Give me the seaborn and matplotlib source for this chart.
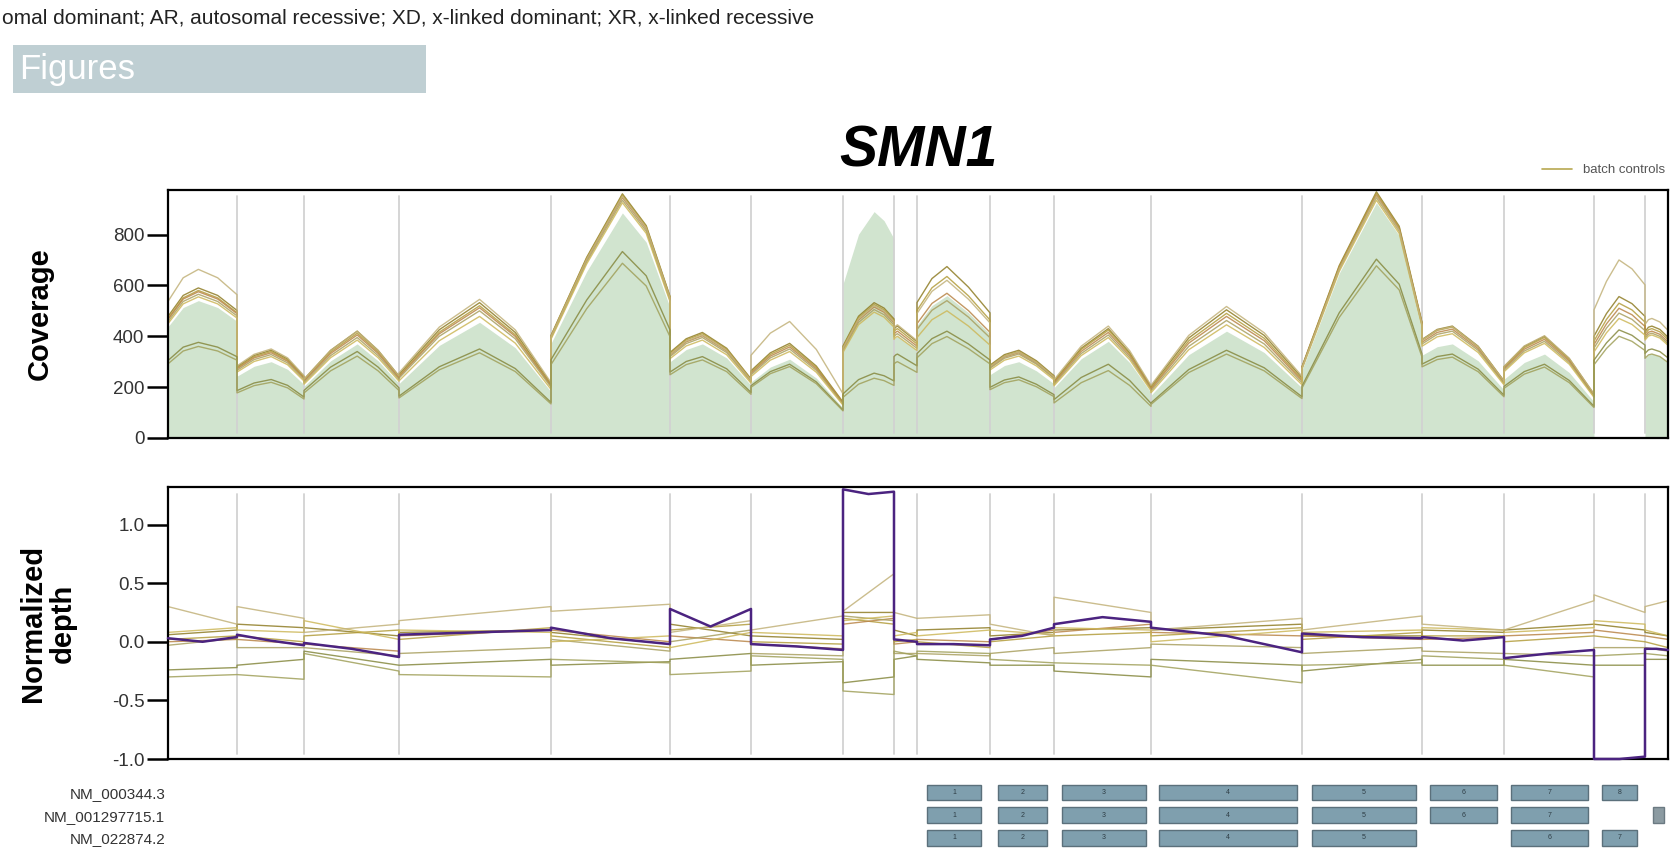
import numpy as np
import pandas as pd
import matplotlib
matplotlib.use("Agg")
import matplotlib.pyplot as plt
from matplotlib.patches import Rectangle
from matplotlib.lines import Line2D
import seaborn as sns

GENE = "SMN1"

# target regions laid end to end along the x axis (bp)
REGION_LEN = [69, 67, 95, 152, 119, 81, 92, 51, 23, 73, 64, 97, 151, 120, 82, 90, 51, 23]

# coverage shape of each region relative to the sample peak
PROF_START = [0.81, 0.81, 0.55, 0.47, 0.42, 0.81, 0.71, 0.68, 0.97, 0.79, 0.83, 0.52, 0.40, 0.29, 0.88, 0.70, 0.72, 0.95]
PROF_LEFT = [0.95, 0.94, 0.82, 0.80, 0.74, 0.94, 0.90, 0.90, 0.99, 0.93, 0.95, 0.82, 0.78, 0.70, 0.97, 0.90, 0.88, 0.99]
PEAK_POS = [0.44, 0.51, 0.56, 0.53, 0.60, 0.40, 0.42, 0.61, 0.15, 0.41, 0.45, 0.56, 0.50, 0.62, 0.37, 0.45, 0.49, 0.30]
PROF_RIGHT = [0.95, 0.90, 0.82, 0.78, 0.87, 0.85, 0.76, 0.96, 0.93, 0.88, 0.88, 0.78, 0.80, 0.86, 0.82, 0.78, 0.95, 0.97]
PROF_END = [0.85, 0.70, 0.58, 0.40, 0.58, 0.56, 0.38, 0.88, 0.86, 0.73, 0.71, 0.47, 0.47, 0.47, 0.51, 0.43, 0.86, 0.90]

# peak coverage per region
PEAK_C1 = [590, 345, 420, 532, 960, 415, 372, 532, 440, 674, 345, 430, 504, 968, 440, 400, 556, 440]
PEAK_C2 = [580, 340, 412, 520, 955, 410, 365, 525, 430, 635, 340, 424, 490, 962, 436, 395, 530, 430]
PEAK_C3 = [575, 335, 405, 512, 945, 402, 358, 515, 420, 569, 335, 415, 478, 955, 428, 388, 510, 420]
PEAK_C4 = [565, 328, 395, 500, 935, 395, 350, 505, 410, 540, 330, 405, 462, 945, 420, 380, 491, 412]
PEAK_C5 = [555, 320, 385, 478, 925, 385, 340, 495, 400, 500, 322, 395, 445, 935, 410, 372, 470, 405]
PEAK_C6 = [663, 350, 420, 545, 950, 405, 458, 520, 445, 620, 338, 440, 517, 950, 438, 402, 700, 470]
PEAK_C7 = [376, 230, 340, 350, 733, 320, 290, 255, 330, 420, 240, 290, 345, 703, 330, 290, 425, 350]
PEAK_C8 = [360, 219, 322, 335, 687, 307, 281, 235, 300, 399, 229, 265, 330, 677, 318, 279, 400, 330]
CASE_PEAK = [540, 300, 370, 455, 885, 370, 310, 890, 400, 560, 300, 380, 420, 925, 370, 330, 0, 330]

# normalized depth per region: (start, end) for controls
NORM_C1 = [(0.06, 0.10), (0.15, 0.12), (0.12, 0.05), (0.08, 0.10), (0.08, -0.02), (0.15, 0.05), (0.05, 0.02), (0.25, 0.25), (0.10, 0.05),
           (0.10, 0.12), (0.05, 0.08), (0.10, 0.12), (0.10, 0.15), (0.05, 0.05), (0.10, 0.08), (0.10, 0.15), (0.15, 0.10), (0.08, 0.05)]
NORM_C2 = [(0.02, 0.05), (0.05, 0.00), (0.05, 0.10), (0.02, 0.12), (0.05, -0.05), (0.10, 0.15), (0.00, -0.02), (0.20, 0.15), (0.00, 0.02),
           (0.00, -0.05), (0.00, 0.05), (0.05, 0.08), (0.05, 0.12), (0.02, 0.08), (0.05, 0.05), (0.00, 0.05), (0.05, 0.00), (0.00, -0.05)]
NORM_C3 = [(0.00, 0.02), (0.02, -0.02), (-0.02, -0.08), (0.05, 0.10), (0.10, 0.00), (0.05, 0.00), (-0.02, -0.06), (0.15, 0.20), (-0.02, 0.00),
           (0.02, 0.00), (0.02, 0.10), (0.08, 0.15), (0.08, 0.05), (0.05, 0.02), (0.02, 0.04), (0.05, 0.08), (0.10, 0.05), (0.05, 0.02)]
NORM_C4 = [(-0.03, 0.03), (-0.05, -0.05), (-0.05, -0.12), (-0.10, -0.05), (0.02, -0.08), (0.00, 0.10), (-0.10, -0.12), (0.22, 0.18), (-0.10, -0.10),
           (-0.10, -0.12), (-0.10, -0.05), (-0.10, -0.05), (-0.02, -0.05), (-0.10, -0.05), (-0.08, -0.10), (-0.10, -0.12), (-0.05, -0.05), (-0.05, -0.08)]
NORM_C5 = [(0.08, 0.12), (0.10, 0.08), (0.18, 0.02), (0.10, 0.08), (0.00, 0.05), (-0.05, 0.08), (0.08, 0.05), (0.18, 0.22), (0.05, 0.08),
           (0.05, 0.10), (0.10, 0.06), (0.12, 0.10), (0.00, 0.10), (0.08, 0.10), (0.12, 0.10), (0.08, 0.12), (0.18, 0.15), (0.10, 0.05)]
NORM_C6 = [(0.30, 0.15), (0.30, 0.20), (0.08, 0.15), (0.18, 0.30), (0.26, 0.32), (0.08, 0.18), (0.10, 0.22), (0.26, 0.58), (0.25, 0.20),
           (0.20, 0.23), (0.15, 0.05), (0.38, 0.25), (0.10, 0.20), (0.10, 0.22), (0.15, 0.10), (0.10, 0.35), (0.40, 0.25), (0.30, 0.35)]
NORM_C7 = [(-0.24, -0.22), (-0.20, -0.15), (-0.08, -0.20), (-0.20, -0.15), (-0.20, -0.17), (-0.15, -0.10), (-0.20, -0.17), (-0.35, -0.30), (-0.15, -0.12),
           (-0.15, -0.18), (-0.20, -0.20), (-0.25, -0.30), (-0.15, -0.20), (-0.25, -0.15), (-0.20, -0.20), (-0.15, -0.20), (-0.20, -0.20), (-0.15, -0.15)]
NORM_C8 = [(-0.30, -0.28), (-0.28, -0.32), (-0.10, -0.25), (-0.28, -0.30), (-0.15, -0.18), (-0.28, -0.25), (-0.12, -0.15), (-0.42, -0.45), (-0.08, -0.12),
           (-0.08, -0.10), (-0.15, -0.18), (-0.18, -0.20), (-0.20, -0.35), (-0.20, -0.18), (-0.12, -0.15), (-0.20, -0.30), (-0.12, -0.10), (-0.10, -0.12)]
# normalized depth of the tested sample: (start, middle, end) per region
NORM_CASE = [(0.03, 0.00, 0.04), (0.06, 0.01, -0.03), (-0.01, -0.06, -0.13), (0.06, 0.08, 0.10), (0.12, 0.03, -0.02), (0.28, 0.13, 0.28),
             (-0.02, -0.04, -0.07), (1.30, 1.26, 1.28), (0.02, 0.01, 0.00), (-0.02, -0.02, -0.03), (0.02, 0.05, 0.12), (0.15, 0.21, 0.17),
             (0.12, 0.05, -0.09), (0.07, 0.04, 0.03), (0.04, 0.01, 0.04), (-0.14, -0.10, -0.07), (-1.00, -1.00, -0.98), (-0.06, -0.06, -0.07)]

CONTROL_NAMES = ["ctrl 1", "ctrl 2", "ctrl 3", "ctrl 4", "ctrl 5", "ctrl 6", "ctrl 7", "ctrl 8"]
CONTROL_PEAKS = [PEAK_C1, PEAK_C2, PEAK_C3, PEAK_C4, PEAK_C5, PEAK_C6, PEAK_C7, PEAK_C8]
CONTROL_NORMS = [NORM_C1, NORM_C2, NORM_C3, NORM_C4, NORM_C5, NORM_C6, NORM_C7, NORM_C8]
CONTROL_COLORS = ["#8f7d25", "#b39d3c", "#b98548", "#a9a060", "#cdb85a", "#c2b27a", "#86893f", "#a0a05a"]

# transcript models
TRANSCRIPTS = ["NM_000344.3", "NM_001297715.1", "NM_022874.2"]
EXON_START = [759, 830, 894, 991, 1144, 1262, 1343, 1434]
EXON_END = [813, 879, 978, 1129, 1248, 1329, 1420, 1469]
EXON_PRESENT = [[1, 1, 1, 1, 1, 1, 1, 1],
                [1, 1, 1, 1, 1, 1, 1, 0],
                [1, 1, 1, 1, 1, 0, 1, 1]]
EXTRA_EXON = (1, 1485, 1496)

HEADER_NOTE = "omal dominant; AR, autosomal recessive; XD, x-linked dominant; XR, x-linked recessive"

edges = np.concatenate([[0], np.cumsum(REGION_LEN)])


def coverage_track(peaks):
    xs, ys = [], []
    for i, w in enumerate(REGION_LEN):
        s, p = edges[i], PEAK_POS[i]
        xs += [s, s + p * w / 2, s + p * w, s + p * w + (1 - p) * w / 2, s + w]
        ratios = [PROF_START[i], PROF_LEFT[i], 1.0, PROF_RIGHT[i], PROF_END[i]]
        ys += [peaks[i] * r for r in ratios]
    return np.array(xs, float), np.array(ys, float)


cov_rows, norm_rows = [], []
for name, peaks, norm in zip(CONTROL_NAMES, CONTROL_PEAKS, CONTROL_NORMS):
    x, y = coverage_track(peaks)
    cov_rows.append(pd.DataFrame({"pos": x, "value": y, "sample": name}))
    nx, ny = [], []
    for i, (a, b) in enumerate(norm):
        nx += [edges[i], edges[i + 1]]
        ny += [a, b]
    norm_rows.append(pd.DataFrame({"pos": nx, "value": ny, "sample": name}))
cov_df = pd.concat(cov_rows, ignore_index=True)
norm_df = pd.concat(norm_rows, ignore_index=True)

case_x, case_y = coverage_track(CASE_PEAK)
cx, cy = [], []
for i, (a, m, b) in enumerate(NORM_CASE):
    cx += [edges[i], (edges[i] + edges[i + 1]) / 2, edges[i + 1]]
    cy += [a, m, b]
case_norm = pd.DataFrame({"pos": cx, "value": cy})

palette = dict(zip(CONTROL_NAMES, CONTROL_COLORS))

sns.set_theme(style="white")
plt.rcParams["font.family"] = ["Liberation Sans", "DejaVu Sans"]
plt.rcParams["text.color"] = "black"
NARROW = ["Liberation Sans Narrow", "Liberation Sans", "DejaVu Sans"]

W, H = 1670, 856
fig = plt.figure(figsize=(W / 100, H / 100), dpi=100)
fig.patch.set_facecolor("white")


def fx(px):
    return px / W


def fy(py):
    return 1 - py / H


# page header
fig.text(fx(2), fy(18), HEADER_NOTE, fontsize=15, family=NARROW, color="#222222", va="center", ha="left")
fig.patches.append(Rectangle((fx(13), fy(93)), fx(413), 48 / H, transform=fig.transFigure,
                             facecolor="#bfcfd3", edgecolor="none"))
fig.text(fx(19), fy(69), "Figures", fontsize=25, family=NARROW, color="white", va="center", ha="left")

ax_cov = fig.add_axes([fx(168), fy(438), fx(1500), 248 / H])
ax_norm = fig.add_axes([fx(168), fy(759), fx(1500), 272 / H])
ax_tx = fig.add_axes([fx(168), 0, fx(1500), 76 / H])

# coverage panel
ax_cov.fill_between(case_x, case_y, 0, color="#d1e4cf", linewidth=0, zorder=0)
sns.lineplot(data=cov_df, x="pos", y="value", hue="sample", palette=palette, estimator=None,
             sort=False, legend=False, linewidth=1.0, alpha=0.85, ax=ax_cov, zorder=2)
ax_cov.set_ylim(0, 975)
ax_cov.set_yticks([0, 200, 400, 600, 800])

# normalized depth panel
sns.lineplot(data=norm_df, x="pos", y="value", hue="sample", palette=palette, estimator=None,
             sort=False, legend=False, linewidth=1.0, alpha=0.85, ax=ax_norm, zorder=2)
sns.lineplot(data=case_norm, x="pos", y="value", color="#4b2380", estimator=None, sort=False,
             linewidth=1.8, ax=ax_norm, zorder=3)
ax_norm.lines[-1].set_clip_on(False)
ax_norm.set_ylim(-1.0, 1.32)
ax_norm.set_yticks([-1.0, -0.5, 0.0, 0.5, 1.0])
ax_norm.set_yticklabels(["-1.0", "-0.5", "0.0", "0.5", "1.0"])

for ax in (ax_cov, ax_norm):
    ax.set_xlim(edges[0], edges[-1])
    ax.set_xticks([])
    ax.set_xlabel("")
    for e in edges[1:-1]:
        ax.axvline(e, ymin=0.02, ymax=0.975, color="#d2d2d2", linewidth=1.3, zorder=1)
    for sp in ax.spines.values():
        sp.set_visible(True)
        sp.set_color("black")
        sp.set_linewidth(1.6)
    ax.tick_params(axis="y", left=True, direction="out", length=15, width=1.8, color="black",
                   labelsize=13.5, labelcolor="#333333", pad=2)

ax_cov.set_ylabel("Coverage", fontsize=21, fontweight="bold", va="center", color="black")
ax_cov.yaxis.set_label_coords((40 - 168) / 1500, 0.5)
ax_norm.set_ylabel("Normalized\ndepth", fontsize=21, fontweight="bold", va="center", linespacing=1.05,
                   color="black")
ax_norm.yaxis.set_label_coords((48 - 168) / 1500, 0.5)

ax_cov.set_title(GENE, fontsize=41, fontweight="bold", fontstyle="italic", pad=17, color="black")

handle = Line2D([], [], color="#b8a850", linewidth=1.2)
leg = ax_cov.legend([handle], ["batch controls"], loc="center left", bbox_to_anchor=((1542 - 168) / 1500, 1.08),
                    frameon=False, fontsize=9.5, handlelength=2.3, handletextpad=0.8, borderpad=0, borderaxespad=0)
for t in leg.get_texts():
    t.set_color("#555555")

# transcript track
ax_tx.set_xlim(edges[0], edges[-1])
ax_tx.set_ylim(2.8, -0.55)
box_h = 0.68
for r, present in enumerate(EXON_PRESENT):
    k = 0
    for j, on in enumerate(present):
        if not on:
            continue
        k += 1
        ax_tx.add_patch(Rectangle((EXON_START[j], r - box_h / 2), EXON_END[j] - EXON_START[j], box_h,
                                  facecolor="#7f9fae", edgecolor="#5b707b", linewidth=1.0))
        ax_tx.text((EXON_START[j] + EXON_END[j]) / 2, r, str(k), fontsize=5, color="#2e3d45",
                   ha="center", va="center")
er, es, ee = EXTRA_EXON
ax_tx.add_patch(Rectangle((es, er - box_h / 2), ee - es, box_h, facecolor="#8c9ba2",
                          edgecolor="#6b7a82", linewidth=1.0))
ax_tx.set_yticks(range(len(TRANSCRIPTS)))
ax_tx.set_yticklabels(TRANSCRIPTS, family=NARROW, fontsize=11, color="#333333")
ax_tx.tick_params(axis="y", length=0, pad=2)
ax_tx.set_xticks([])
for sp in ax_tx.spines.values():
    sp.set_visible(False)
ax_tx.patch.set_alpha(0)

fig.savefig("out.png", dpi=100)
